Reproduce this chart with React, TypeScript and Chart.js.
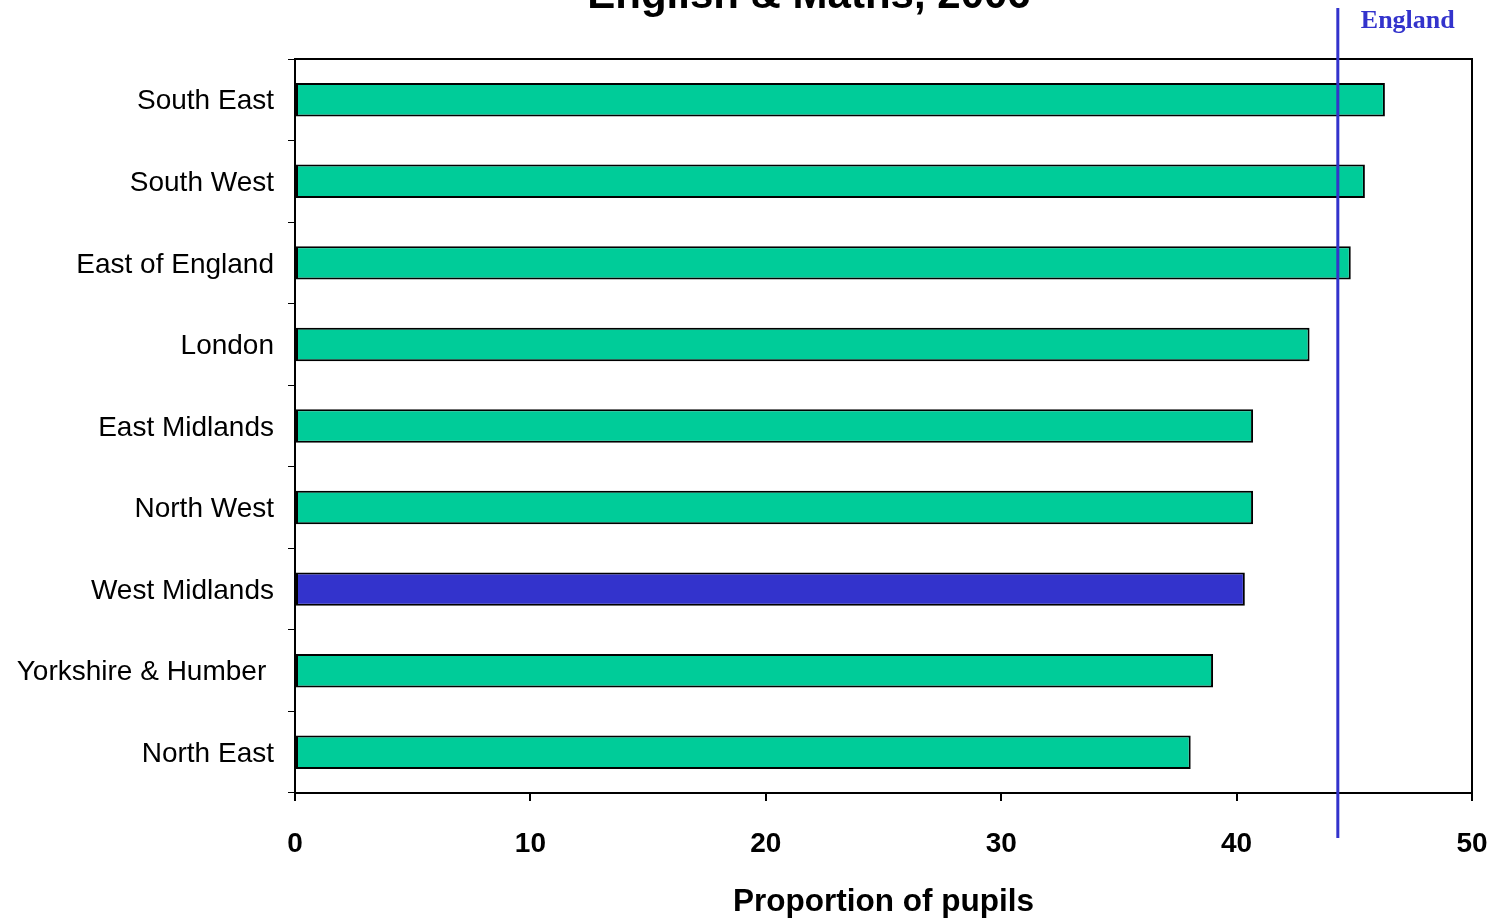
import React, { useEffect, useRef } from "react";
import { Chart, registerables } from "chart.js";

Chart.register(...registerables);

const regions = [
  "South East",
  "South West",
  "East of England",
  "London",
  "East Midlands",
  "North West",
  "West Midlands",
  "Yorkshire & Humber ",
  "North East",
];
const proportions = [46.3, 45.45, 44.85, 43.1, 40.7, 40.7, 40.35, 39.0, 38.05];
const highlightedRegion = "West Midlands";
const englandAverage = 44.3;
const englandLabel = "England";
const xTickValues = [0, 10, 20, 30, 40, 50];
const chartTitle = "English & Maths, 2006";
const xAxisTitle = "Proportion of pupils";

const BAR_COLOR = "#00CC99";
const HIGHLIGHT_COLOR = "#3333CC";
const LINE_COLOR = "#3333CC";
const SANS = "Arial, 'Liberation Sans', sans-serif";
const SERIF = "'Times New Roman', 'Liberation Serif', serif";

const decorPlugin = {
  id: "decor",
  afterDraw(chart: any) {
    const { ctx, chartArea, scales } = chart;
    ctx.save();
    // plot frame (top & right)
    ctx.strokeStyle = "#000";
    ctx.lineWidth = 2;
    ctx.beginPath();
    ctx.moveTo(chartArea.left, chartArea.top);
    ctx.lineTo(chartArea.right, chartArea.top);
    ctx.lineTo(chartArea.right, chartArea.bottom);
    ctx.stroke();
    // England reference line
    const x = scales.x.getPixelForValue(englandAverage);
    ctx.strokeStyle = LINE_COLOR;
    ctx.lineWidth = 3;
    ctx.beginPath();
    ctx.moveTo(x, 8);
    ctx.lineTo(x, 838);
    ctx.stroke();
    ctx.fillStyle = LINE_COLOR;
    ctx.font = `bold 26px ${SERIF}`;
    ctx.textAlign = "left";
    ctx.textBaseline = "alphabetic";
    ctx.fillText(englandLabel, x + 23, 28);
    // chart title (partly cut off at the top)
    ctx.fillStyle = "#000";
    ctx.font = `bold 42px ${SANS}`;
    ctx.textAlign = "center";
    ctx.fillText(chartTitle, 809, 8);
    ctx.restore();
  },
};

export default function App() {
  const canvasRef = useRef<HTMLCanvasElement | null>(null);

  useEffect(() => {
    document.body.style.margin = "0";
    const canvas = canvasRef.current;
    if (!canvas) return;
    const chart = new Chart(canvas, {
      type: "bar",
      data: {
        labels: regions,
        datasets: [
          {
            data: proportions,
            backgroundColor: regions.map((r) =>
              r === highlightedRegion ? HIGHLIGHT_COLOR : BAR_COLOR
            ),
            borderColor: "#000",
            borderWidth: 2,
            borderSkipped: false,
            categoryPercentage: 1,
            barPercentage: 0.41,
          },
        ],
      },
      options: {
        indexAxis: "y",
        responsive: false,
        animation: false,
        devicePixelRatio: 1,
        layout: { padding: { top: 59, right: 18, left: 0, bottom: 0 } },
        plugins: {
          legend: { display: false },
          title: { display: false },
          tooltip: { enabled: false },
        },
        scales: {
          x: {
            type: "linear",
            min: 0,
            max: 50,
            afterBuildTicks: (scale: any) => {
              scale.ticks = xTickValues.map((v) => ({ value: v }));
            },
            afterFit: (scale: any) => {
              scale.height = 128;
              scale.paddingRight = 0;
              scale.paddingLeft = 0;
            },
            border: { display: true, color: "#000", width: 2 },
            grid: {
              display: true,
              drawOnChartArea: false,
              drawTicks: true,
              tickLength: 8,
              color: "#000",
              lineWidth: 2,
            },
            ticks: {
              color: "#000",
              padding: 26,
              font: { family: SANS, size: 28, weight: "bold" },
              maxRotation: 0,
            },
            title: {
              display: true,
              text: xAxisTitle,
              color: "#000",
              font: { family: SANS, size: 31.5, weight: "bold" },
              padding: { top: 0, bottom: 0 },
            },
          },
          y: {
            type: "category",
            afterFit: (scale: any) => {
              scale.width = 295;
              scale.paddingTop = 0;
              scale.paddingBottom = 0;
            },
            border: { display: true, color: "#000", width: 2 },
            grid: {
              display: true,
              offset: true,
              drawOnChartArea: false,
              drawTicks: true,
              tickLength: 7,
              color: "#000",
              lineWidth: 1,
            },
            ticks: {
              color: "#000",
              padding: 14,
              labelOffset: 2,
              font: { family: SANS, size: 28 },
              autoSkip: false,
            },
          },
        },
      },
      plugins: [decorPlugin],
    } as any);
    return () => chart.destroy();
  }, []);

  return (
    <div style={{ position: "absolute", left: 0, top: 0, width: 1490, height: 921, background: "#fff" }}>
      <canvas ref={canvasRef} width={1490} height={921} style={{ width: 1490, height: 921, display: "block" }} />
    </div>
  );
}
